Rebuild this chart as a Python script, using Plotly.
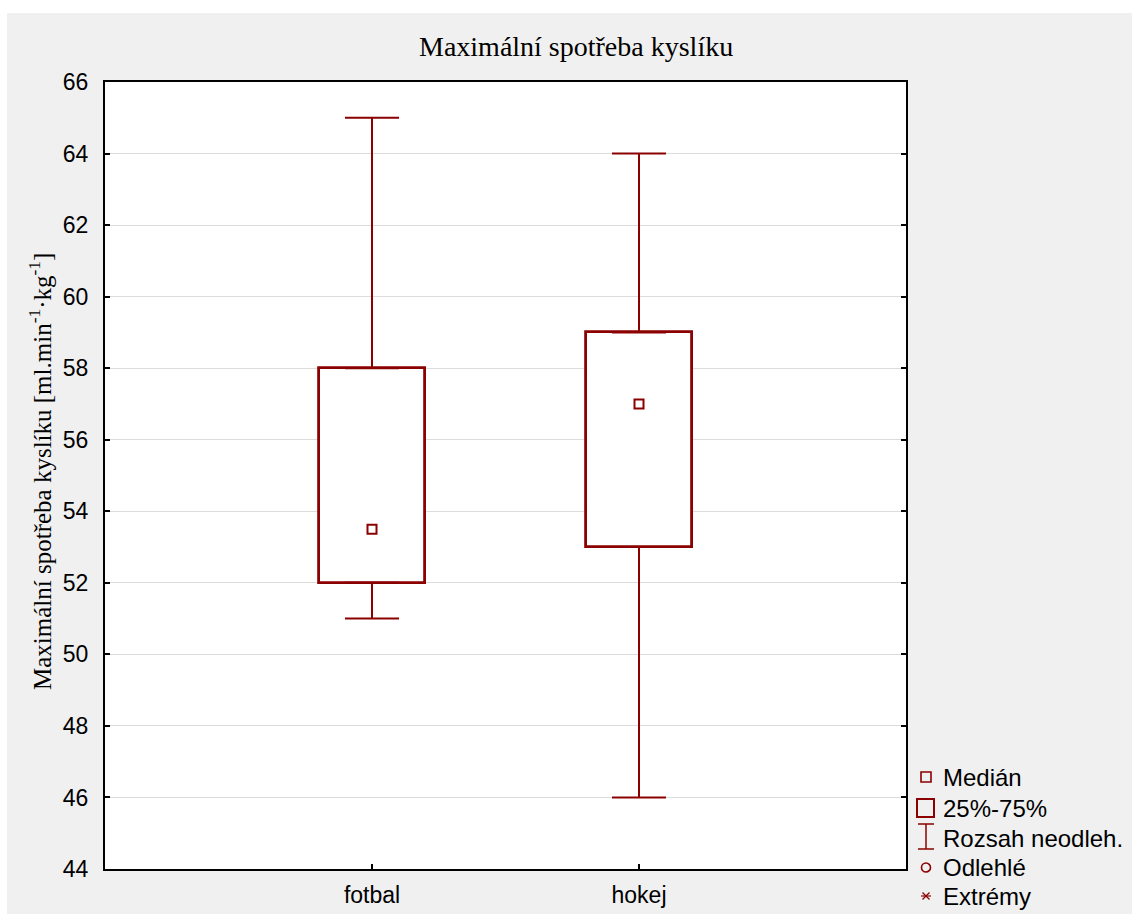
import plotly.graph_objects as go

# Summary statistics per group
groups = ["fotbal", "hokej"]
positions = [0, 1]
medians = [53.5, 57.0]
q1 = [52.0, 53.0]
q3 = [58.0, 59.0]
whisker_low = [51.0, 46.0]
whisker_high = [65.0, 64.0]

y_ticks = list(range(44, 67, 2))

DARK_RED = "#8B0000"
BG = "#F0F0F0"
W, H = 1132, 914
L, R, T, B = 105, 226, 82, 45
PW, PH = W - L - R, H - T - B


def px(x):
    return (x - L) / PW


def py(y):
    return (H - B - y) / PH


fig = go.Figure()

# Interquartile boxes
fig.add_trace(go.Bar(
    x=positions,
    y=[b - a for a, b in zip(q1, q3)],
    base=q1,
    width=0.4,
    marker=dict(color="white", line=dict(color=DARK_RED, width=2.8)),
    hoverinfo="skip",
    showlegend=False,
))

# Upper whiskers
fig.add_trace(go.Scatter(
    x=positions, y=q3, mode="markers",
    marker=dict(color="rgba(0,0,0,0)", size=1),
    error_y=dict(type="data", symmetric=False,
                 array=[h - q for h, q in zip(whisker_high, q3)],
                 arrayminus=[0, 0],
                 color=DARK_RED, thickness=2, width=27),
    hoverinfo="skip", showlegend=False,
))

# Lower whiskers
fig.add_trace(go.Scatter(
    x=positions, y=q1, mode="markers",
    marker=dict(color="rgba(0,0,0,0)", size=1),
    error_y=dict(type="data", symmetric=False,
                 array=[0, 0],
                 arrayminus=[q - lo for q, lo in zip(q1, whisker_low)],
                 color=DARK_RED, thickness=2, width=27),
    hoverinfo="skip", showlegend=False,
))

# Medians
fig.add_trace(go.Scatter(
    x=positions, y=medians, mode="markers",
    marker=dict(symbol="square-open", size=9, color=DARK_RED,
                line=dict(width=2, color=DARK_RED)),
    showlegend=False,
))

shapes = []
# white strips on the top and left edge
shapes.append(dict(type="rect", xref="paper", yref="paper",
                   x0=px(0), x1=px(W), y0=py(0), y1=py(13),
                   fillcolor="white", line=dict(width=0), layer="above"))
shapes.append(dict(type="rect", xref="paper", yref="paper",
                   x0=px(0), x1=px(7), y0=py(0), y1=py(H),
                   fillcolor="white", line=dict(width=0), layer="above"))

# Legend key symbols
cx = 926
# median
shapes.append(dict(type="rect", xref="paper", yref="paper",
                   x0=px(cx - 5), x1=px(cx + 5), y0=py(772), y1=py(782),
                   line=dict(color=DARK_RED, width=1.6)))
# box
shapes.append(dict(type="rect", xref="paper", yref="paper",
                   x0=px(917), x1=px(934), y0=py(799), y1=py(817),
                   line=dict(color=DARK_RED, width=2)))
# range I-beam
for y0, y1, x0, x1 in [(824, 824, 918, 934), (849, 849, 918, 934), (824, 849, cx, cx)]:
    shapes.append(dict(type="line", xref="paper", yref="paper",
                       x0=px(x0), x1=px(x1), y0=py(y0), y1=py(y1),
                       line=dict(color=DARK_RED, width=1.5)))
# outlier circle
shapes.append(dict(type="circle", xref="paper", yref="paper",
                   x0=px(cx - 4.5), x1=px(cx + 4.5), y0=py(863), y1=py(872),
                   line=dict(color=DARK_RED, width=1.6)))
# extremes asterisk
ay = 896
for dx, dy in [(5, 0), (3.5, 3.5), (3.5, -3.5)]:
    shapes.append(dict(type="line", xref="paper", yref="paper",
                       x0=px(cx - dx), x1=px(cx + dx), y0=py(ay - dy), y1=py(ay + dy),
                       line=dict(color=DARK_RED, width=1.2)))

legend_labels = ["Medián", "25%-75%", "Rozsah neodleh.", "Odlehlé", "Extrémy"]
legend_y = [777, 808, 838, 867, 896]

annotations = [
    dict(text="Maximální spotřeba kyslíku", xref="paper", yref="paper",
         x=px(576), y=py(47), xanchor="center", yanchor="middle", showarrow=False,
         font=dict(family="Liberation Serif, Times New Roman, serif", size=28, color="black")),
    dict(text="Maximální spotřeba kyslíku [ml.min<sup>-1</sup>·kg<sup>-1</sup>]",
         xref="paper", yref="paper", x=px(40), y=py(472), textangle=-90,
         xanchor="center", yanchor="middle", showarrow=False,
         font=dict(family="Liberation Serif, Times New Roman, serif", size=25, color="black")),
]
for lab, ly in zip(legend_labels, legend_y):
    annotations.append(dict(text=lab, xref="paper", yref="paper",
                            x=px(941), y=py(ly), xanchor="left", yanchor="middle",
                            showarrow=False,
                            font=dict(family="Liberation Sans, Arial, sans-serif", size=24, color="black")))

fig.update_layout(
    width=W, height=H, autosize=False,
    margin=dict(l=L, r=R, t=T, b=B, pad=0, autoexpand=False),
    paper_bgcolor=BG, plot_bgcolor="white",
    font=dict(family="Liberation Sans, Arial, sans-serif", size=23, color="black"),
    shapes=shapes, annotations=annotations,
    showlegend=False,
    xaxis=dict(range=[-1, 2], tickvals=positions, ticktext=groups,
               ticks="inside", ticklen=5, tickwidth=2, tickcolor="black",
               showline=True, linecolor="black", linewidth=2, mirror=True,
               showgrid=False, zeroline=False, ticklabelstandoff=4,
               automargin=False),
    yaxis=dict(range=[44, 66], tickvals=y_ticks,
               ticks="inside", ticklen=5, tickwidth=2, tickcolor="black",
               showline=True, linecolor="black", linewidth=2, mirror="ticks",
               showgrid=True, gridcolor="#DCDCDC", gridwidth=1, zeroline=False,
               ticklabelstandoff=10, automargin=False),
    bargap=0,
)

fig.write_html("out.html")
